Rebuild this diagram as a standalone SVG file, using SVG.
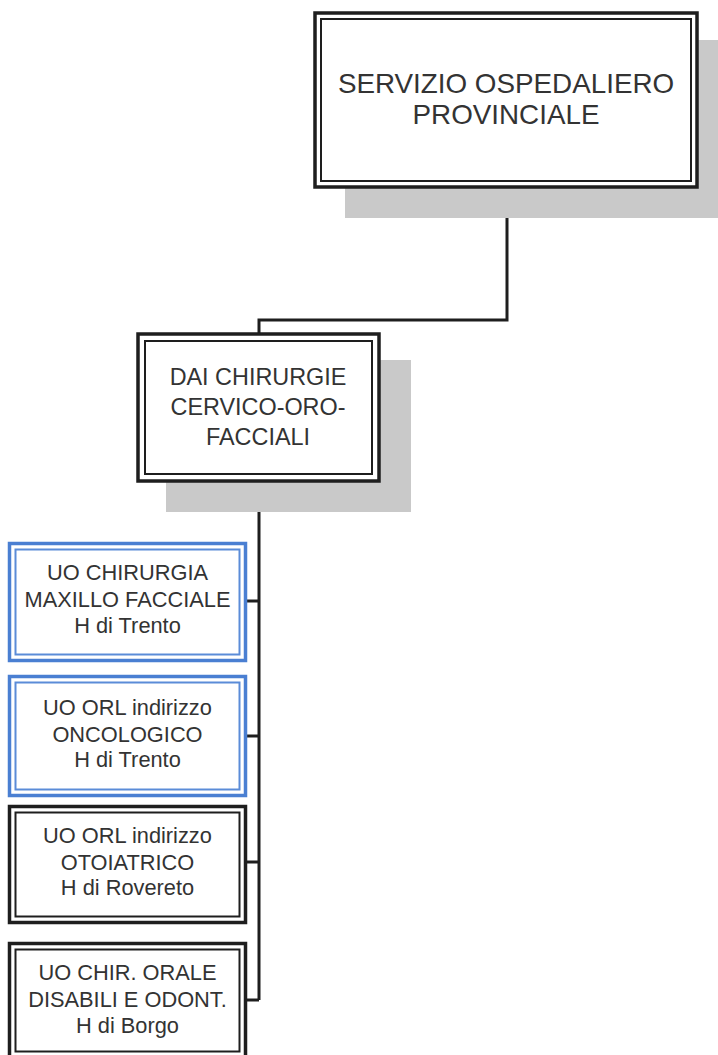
<svg xmlns="http://www.w3.org/2000/svg" width="718" height="1055" viewBox="0 0 718 1055">
<style>
.shadow{fill:#c9c9c9;stroke:none}
.outer{fill:#fff;stroke:#1e1e1e;stroke-width:3.5}
.inner{fill:#fff;stroke:#1e1e1e;stroke-width:2}
.bouter{fill:#fff;stroke:#4a7fd2;stroke-width:3.5}
.binner{fill:#fff;stroke:#5b8cd8;stroke-width:2}
.conn{fill:none;stroke:#1e1e1e;stroke-width:3}
text{font-family:"Liberation Sans",Arial,sans-serif;fill:#333;text-anchor:middle}
.t1{font-size:27.8px}
.t2{font-size:23.4px}
.t3{font-size:21.8px}
</style>
<rect width="718" height="1055" fill="#fff"/>
<g id="connectors">
<path class="conn" d="M507,188 V320 H259 V334"/>
<path class="conn" d="M259,482 V1000"/>
<path class="conn" d="M245,601 H259"/>
<path class="conn" d="M245,736 H259"/>
<path class="conn" d="M245,862 H259"/>
<path class="conn" d="M245,1000 H259"/>
</g>
<g id="servizio">
<rect class="shadow" x="345" y="40" width="373" height="178"/>
<rect class="outer" x="315" y="13" width="382" height="174"/>
<rect class="inner" x="321" y="19" width="370" height="162"/>
<text class="t1" x="506" y="93">SERVIZIO OSPEDALIERO</text>
<text class="t1" x="506" y="124">PROVINCIALE</text>
</g>
<g id="dai">
<rect class="shadow" x="166" y="360" width="245" height="152"/>
<rect class="outer" x="138" y="334" width="241" height="147"/>
<rect class="inner" x="145" y="341" width="227" height="133"/>
<text class="t2" x="258" y="385">DAI CHIRURGIE</text>
<text class="t2" x="258" y="415">CERVICO-ORO-</text>
<text class="t2" x="258" y="445">FACCIALI</text>
</g>
<g id="uo-maxillo">
<rect class="bouter" x="9.5" y="543.5" width="236" height="117"/>
<rect class="binner" x="15.5" y="549.5" width="224" height="105"/>
<text class="t3" x="127.5" y="580">UO CHIRURGIA</text>
<text class="t3" x="127.5" y="607">MAXILLO FACCIALE</text>
<text class="t3" x="127.5" y="633">H di Trento</text>
</g>
<g id="uo-orl-onco">
<rect class="bouter" x="9.5" y="676.5" width="236" height="119"/>
<rect class="binner" x="15.5" y="682.5" width="224" height="107"/>
<text class="t3" x="127.5" y="715">UO ORL indirizzo</text>
<text class="t3" x="127.5" y="742">ONCOLOGICO</text>
<text class="t3" x="127.5" y="767">H di Trento</text>
</g>
<g id="uo-orl-oto">
<rect class="outer" x="9.5" y="806.5" width="236" height="116"/>
<rect class="inner" x="15.5" y="812.5" width="224" height="104"/>
<text class="t3" x="127.5" y="843">UO ORL indirizzo</text>
<text class="t3" x="127.5" y="870">OTOIATRICO</text>
<text class="t3" x="127.5" y="895">H di Rovereto</text>
</g>
<g id="uo-chir-orale">
<rect class="outer" x="9.5" y="943.5" width="236" height="114"/>
<rect class="inner" x="15.5" y="949.5" width="224" height="102"/>
<text class="t3" x="127.5" y="980">UO CHIR. ORALE</text>
<text class="t3" x="127.5" y="1007">DISABILI E ODONT.</text>
<text class="t3" x="127.5" y="1033">H di Borgo</text>
</g>
</svg>
